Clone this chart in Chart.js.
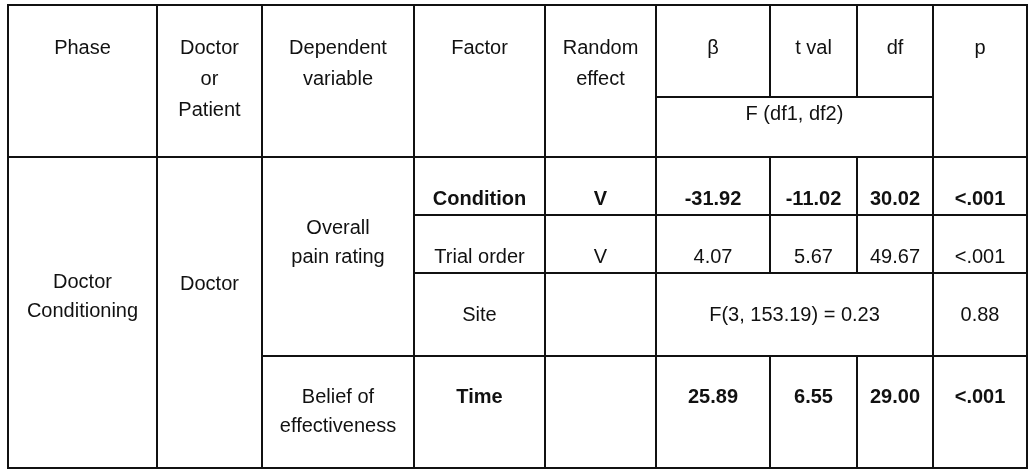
<!DOCTYPE html>
<html><head><meta charset="utf-8">
<script src="https://cdn.jsdelivr.net/npm/chart.js@4"></script>
<style>html,body{margin:0;padding:0;background:#fff}#wrap{width:1033px;height:475px}</style>
</head><body><div id="wrap"><canvas id="c"></canvas></div>
<script>
// Data
const headers = ["Phase", "Doctor\nor\nPatient", "Dependent\nvariable", "Factor", "Random\neffect", "β", "t val", "df", "p"];
const subHeader = "F (df1, df2)";
const phase = "Doctor\nConditioning";
const who = "Doctor";
const depVars = ["Overall\npain rating", "Belief of\neffectiveness"];
const factors = ["Condition", "Trial order", "Site", "Time"];
const randomEffect = ["V", "V", "", ""];
const betas = ["-31.92", "4.07", "", "25.89"];
const tvals = ["-11.02", "5.67", "", "6.55"];
const dfs = ["30.02", "49.67", "", "29.00"];
const pvals = ["<.001", "<.001", "0.88", "<.001"];
const fStats = ["", "", "F(3, 153.19) = 0.23", ""];
const boldRows = [true, false, false, true];

// Layout (geometry, in scale units)
const colX = [8, 157, 262, 414, 545, 656, 770, 857, 933, 1027];
const rowY = [5, 157, 215, 273, 356, 468];
const subY = 97;

const FONT = '"Liberation Sans", Arial, sans-serif';
const tablePlugin = {
  id: 'table',
  afterDraw(chart) {
    const ctx = chart.ctx, xs = chart.scales.x, ys = chart.scales.y;
    const X = v => xs.getPixelForValue(v), Y = v => ys.getPixelForValue(v);
    ctx.save();
    ctx.strokeStyle = '#111'; ctx.lineWidth = 2; ctx.lineCap = 'square';
    const line = (x1, y1, x2, y2) => { ctx.beginPath(); ctx.moveTo(X(x1), Y(y1)); ctx.lineTo(X(x2), Y(y2)); ctx.stroke(); };
    line(colX[0], rowY[0], colX[9], rowY[0]);
    line(colX[0], rowY[5], colX[9], rowY[5]);
    line(colX[0], rowY[1], colX[9], rowY[1]);
    [0, 1, 2, 3, 4, 5, 8, 9].forEach(i => line(colX[i], rowY[0], colX[i], rowY[5]));
    line(colX[6], rowY[0], colX[6], subY);
    line(colX[7], rowY[0], colX[7], subY);
    line(colX[5], subY, colX[8], subY);
    [1, 2].forEach(r => {
      line(colX[3], rowY[r + 1], colX[9], rowY[r + 1]);
      line(colX[6], rowY[r], colX[6], rowY[r + 1]);
      line(colX[7], rowY[r], colX[7], rowY[r + 1]);
    });
    line(colX[6], rowY[1], colX[6], rowY[2]);
    line(colX[7], rowY[1], colX[7], rowY[2]);
    line(colX[2], rowY[4], colX[9], rowY[4]);
    line(colX[6], rowY[4], colX[6], rowY[5]);
    line(colX[7], rowY[4], colX[7], rowY[5]);

    ctx.fillStyle = '#111'; ctx.textAlign = 'center'; ctx.textBaseline = 'middle';
    const text = (s, cx, cy, bold, lh) => {
      ctx.font = (bold ? 'bold ' : '') + '20px ' + FONT;
      const ls = s.split('\n'); lh = lh || 30;
      ls.forEach((l, i) => ctx.fillText(l, X(cx), Y(cy + (i - (ls.length - 1) / 2) * lh)));
    };
    const mid = i => (colX[i] + colX[i + 1]) / 2;
    headers.forEach((h, i) => {
      const n = h.split('\n').length;
      text(h, mid(i), 48 + (n - 1) * 15.5, false, 31);
    });
    text(subHeader, (colX[5] + colX[8]) / 2, 114, false);
    text(phase, mid(0), 297, false, 29);
    text(who, mid(1), 284, false);
    text(depVars[0], mid(2), 243, false, 29);
    text(depVars[1], mid(2), 412, false, 29);
    factors.forEach((f, r) => {
      const cy = [199, 257, 315, 397][r];
      const b = boldRows[r];
      text(f, mid(3), cy, b);
      text(randomEffect[r], mid(4), cy, b);
      if (fStats[r]) text(fStats[r], (colX[5] + colX[8]) / 2, cy, b);
      else { text(betas[r], mid(5), cy, b); text(tvals[r], mid(6), cy, b); text(dfs[r], mid(7), cy, b); }
      text(pvals[r], mid(8), cy, b);
    });
    ctx.restore();
  }
};

new Chart(document.getElementById('c'), {
  type: 'scatter',
  data: { datasets: [{ data: [] }] },
  options: {
    responsive: true, maintainAspectRatio: false, animation: false,
    layout: { padding: 0 },
    plugins: { legend: { display: false }, tooltip: { enabled: false } },
    scales: {
      x: { type: 'linear', min: 0, max: 1033, display: false },
      y: { type: 'linear', min: 0, max: 475, reverse: true, display: false }
    }
  },
  plugins: [tablePlugin]
});
</script></body></html>
